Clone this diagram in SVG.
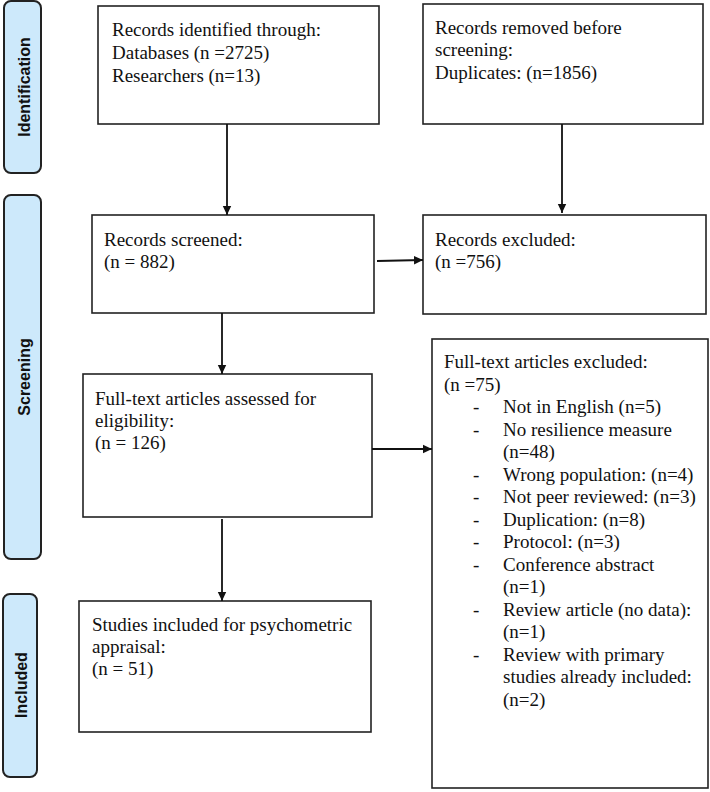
<svg xmlns="http://www.w3.org/2000/svg" width="710" height="792" viewBox="0 0 710 792">
<style>
.side{fill:#cde9fb;stroke:#222;stroke-width:2}
.side-t{font-family:"Liberation Sans",Arial,sans-serif;font-weight:bold;font-size:16px;fill:#111;text-anchor:middle}
.box{fill:#fff;stroke:#222;stroke-width:1.6}
.t{font-family:"Liberation Serif","Times New Roman",serif;font-size:19px;fill:#111}
.conn{stroke:#111;stroke-width:1.8;fill:none}
</style>
<defs>
<marker id="ah" markerWidth="10" markerHeight="10" refX="9" refY="5" orient="auto" markerUnits="userSpaceOnUse">
<path d="M0,0.8 L9,5 L0,9.2 Z" fill="#111"/>
</marker>
</defs>
<rect width="710" height="792" fill="#fff"/>

<g id="side-identification">
<rect class="side" x="4" y="1" width="37" height="172" rx="7"/>
<text class="side-t" transform="translate(30,87) rotate(-90)">Identification</text>
</g>
<g id="side-screening">
<rect class="side" x="4" y="195" width="37" height="364" rx="7"/>
<text class="side-t" transform="translate(30,377) rotate(-90)">Screening</text>
</g>
<g id="side-included">
<rect class="side" x="3" y="594" width="34" height="183" rx="7"/>
<text class="side-t" transform="translate(27,685) rotate(-90)">Included</text>
</g>

<g id="node-identified">
<rect class="box" x="98" y="6" width="281" height="118"/>
<text class="t" x="112" y="36">Records identified through:</text>
<text class="t" x="112" y="59">Databases (n =2725)</text>
<text class="t" x="112" y="82">Researchers (n=13)</text>
</g>
<g id="node-removed">
<rect class="box" x="423" y="4" width="280" height="120"/>
<text class="t" x="435" y="34">Records removed before</text>
<text class="t" x="435" y="56">screening:</text>
<text class="t" x="435" y="79">Duplicates: (n=1856)</text>
</g>
<g id="node-screened">
<rect class="box" x="92" y="215" width="282" height="98"/>
<text class="t" x="104" y="246">Records screened:</text>
<text class="t" x="104" y="268">(n = 882)</text>
</g>
<g id="node-excluded">
<rect class="box" x="423" y="215" width="283" height="99"/>
<text class="t" x="435" y="246">Records excluded:</text>
<text class="t" x="435" y="268">(n =756)</text>
</g>
<g id="node-fulltext">
<rect class="box" x="83" y="374" width="289" height="143"/>
<text class="t" x="95" y="405">Full-text articles assessed for</text>
<text class="t" x="95" y="427">eligibility:</text>
<text class="t" x="95" y="449">(n = 126)</text>
</g>
<g id="node-included">
<rect class="box" x="79" y="601" width="292" height="131"/>
<text class="t" x="92" y="631">Studies included for psychometric</text>
<text class="t" x="92" y="653">appraisal:</text>
<text class="t" x="92" y="675">(n = 51)</text>
</g>
<g id="node-ft-excluded">
<rect class="box" x="432" y="339" width="276" height="449"/>
<text class="t" x="444" y="368">Full-text articles excluded:</text>
<text class="t" x="444" y="390.5">(n =75)</text>
<g class="t">
<text x="473" y="413">-</text><text x="503" y="413">Not in English (n=5)</text>
<text x="473" y="435.5">-</text><text x="503" y="435.5">No resilience measure</text>
<text x="503" y="458">(n=48)</text>
<text x="473" y="480.5">-</text><text x="503" y="480.5">Wrong population: (n=4)</text>
<text x="473" y="503">-</text><text x="503" y="503">Not peer reviewed: (n=3)</text>
<text x="473" y="525.5">-</text><text x="503" y="525.5">Duplication: (n=8)</text>
<text x="473" y="548">-</text><text x="503" y="548">Protocol: (n=3)</text>
<text x="473" y="570.5">-</text><text x="503" y="570.5">Conference abstract</text>
<text x="503" y="593">(n=1)</text>
<text x="473" y="615.5">-</text><text x="503" y="615.5">Review article (no data):</text>
<text x="503" y="638">(n=1)</text>
<text x="473" y="660.5">-</text><text x="503" y="660.5">Review with primary</text>
<text x="503" y="683">studies already included:</text>
<text x="503" y="705.5">(n=2)</text>
</g>
</g>

<g id="connectors">
<line class="conn" x1="227" y1="124" x2="227" y2="215" marker-end="url(#ah)"/>
<line class="conn" x1="562" y1="124" x2="562" y2="213" marker-end="url(#ah)"/>
<line class="conn" x1="377" y1="261" x2="423" y2="260" marker-end="url(#ah)"/>
<line class="conn" x1="222" y1="313" x2="222" y2="374" marker-end="url(#ah)"/>
<line class="conn" x1="372" y1="449" x2="432" y2="449" marker-end="url(#ah)"/>
<line class="conn" x1="222" y1="519" x2="222" y2="601" marker-end="url(#ah)"/>
</g>
</svg>
